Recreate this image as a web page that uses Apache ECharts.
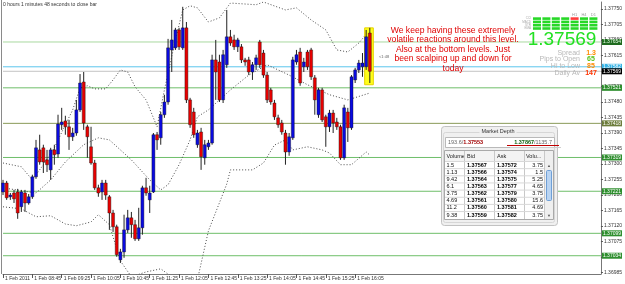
<!DOCTYPE html>
<html><head><meta charset="utf-8">
<script src="https://cdn.jsdelivr.net/npm/echarts@6/dist/echarts.min.js"></script>
<style>html,body{margin:0;padding:0;background:#fff}#c{width:625px;height:284px}</style>
</head><body><div id="c"></div>
<script>
// ---- data ----
const opens = [1.37219,1.37245,1.37205,1.37216,1.37219,1.37176,1.37216,1.37187,1.37205,1.37263,
1.37341,1.37347,1.37312,1.37283,1.37341,1.37329,1.37414,1.37425,1.37408,1.37379,
1.37390,1.37457,1.37538,1.37408,1.37350,1.37303,1.37231,1.37219,1.37245,1.37205,
1.37158,1.37118,1.37022,1.37045,1.37109,1.37144,1.37124,1.37083,1.37115,1.37231,
1.37196,1.37219,1.37385,1.37376,1.37443,1.37480,1.37631,1.37637,1.37689,1.37637,
1.37695,1.37486,1.37451,1.37356,1.37393,1.37318,1.37350,1.37361,1.37602,1.37596,
1.37486,1.37588,1.37669,1.37660,1.37640,1.37640,1.37602,1.37602,1.37567,1.37588,
1.37654,1.37622,1.37558,1.37515,1.37477,1.37434,1.37419,1.37390,1.37335,1.37376,
1.37596,1.37625,1.37582,1.37625,1.37631,1.37550,1.37443,1.37515,1.37437,1.37408,
1.37448,1.37422,1.37408,1.37318,1.37451,1.37405,1.37544,1.37573,1.37582,1.37582,
1.37680];
const closes = [1.37245,1.37202,1.37210,1.37199,1.37158,1.37219,1.37187,1.37205,1.37263,1.37347,
1.37306,1.37306,1.37298,1.37341,1.37327,1.37416,1.37422,1.37408,1.37379,1.37390,
1.37457,1.37535,1.37419,1.37379,1.37303,1.37231,1.37216,1.37245,1.37210,1.37158,
1.37118,1.37037,1.37045,1.37109,1.37144,1.37124,1.37083,1.37115,1.37231,1.37216,
1.37216,1.37385,1.37370,1.37443,1.37480,1.37637,1.37660,1.37689,1.37640,1.37695,
1.37486,1.37414,1.37385,1.37390,1.37321,1.37356,1.37361,1.37602,1.37567,1.37486,
1.37617,1.37669,1.37651,1.37640,1.37660,1.37602,1.37596,1.37567,1.37588,1.37608,
1.37588,1.37558,1.37486,1.37480,1.37437,1.37414,1.37393,1.37335,1.37379,1.37602,
1.37617,1.37535,1.37596,1.37582,1.37553,1.37486,1.37515,1.37428,1.37408,1.37448,
1.37419,1.37408,1.37318,1.37463,1.37405,1.37553,1.37573,1.37593,1.37593,1.37669,
1.37569];
const lows = [1.37210,1.37196,1.37196,1.37187,1.37141,1.37161,1.37161,1.37182,1.37199,1.37257,
1.37298,1.37274,1.37277,1.37254,1.37298,1.37318,1.37399,1.37385,1.37341,1.37367,
1.37382,1.37451,1.37399,1.37318,1.37298,1.37225,1.37205,1.37196,1.37196,1.37109,
1.37103,1.37031,1.37013,1.37028,1.37100,1.37086,1.37077,1.37077,1.37095,1.37208,
1.37158,1.37216,1.37341,1.37356,1.37434,1.37472,1.37567,1.37631,1.37631,1.37631,
1.37477,1.37405,1.37376,1.37347,1.37283,1.37298,1.37341,1.37356,1.37486,1.37480,
1.37477,1.37579,1.37643,1.37631,1.37625,1.37593,1.37585,1.37558,1.37544,1.37573,
1.37579,1.37550,1.37477,1.37472,1.37428,1.37405,1.37385,1.37298,1.37324,1.37370,
1.37588,1.37527,1.37567,1.37573,1.37544,1.37443,1.37434,1.37422,1.37350,1.37393,
1.37390,1.37399,1.37312,1.37312,1.37364,1.37399,1.37535,1.37564,1.37553,1.37573,
1.37535];
const highs = [1.37254,1.37251,1.37216,1.37225,1.37228,1.37225,1.37225,1.37213,1.37269,1.37370,
1.37385,1.37356,1.37341,1.37347,1.37356,1.37443,1.37463,1.37440,1.37428,1.37405,
1.37486,1.37561,1.37567,1.37414,1.37408,1.37312,1.37240,1.37254,1.37254,1.37210,
1.37167,1.37124,1.37054,1.37153,1.37167,1.37161,1.37138,1.37173,1.37237,1.37260,
1.37237,1.37390,1.37393,1.37451,1.37501,1.37663,1.37718,1.37695,1.37695,1.37756,
1.37712,1.37492,1.37463,1.37399,1.37405,1.37370,1.37370,1.37617,1.37660,1.37617,
1.37631,1.37747,1.37689,1.37675,1.37666,1.37648,1.37608,1.37611,1.37596,1.37617,
1.37660,1.37631,1.37567,1.37521,1.37486,1.37443,1.37428,1.37399,1.37390,1.37611,
1.37631,1.37637,1.37608,1.37631,1.37637,1.37558,1.37521,1.37521,1.37443,1.37457,
1.37457,1.37434,1.37414,1.37472,1.37463,1.37558,1.37579,1.37602,1.37622,1.37689,
1.37695];
// Bollinger bands: [bar index, price]
const upperBand = [[0,1.37303],[5,1.37292],[8,1.37254],[11,1.37298],[14,1.37347],[17,1.37414],[19,1.37457],[21,1.37521],[23,1.37527],[25,1.37518],[28,1.37518],[30,1.37544],[32,1.37573],[34,1.37567],[36,1.37524],[39,1.37486],[42,1.37408],[44,1.37515],[47,1.37660],[49,1.37747],[51,1.37759],[53,1.37753],[56,1.37712],[59,1.37724],[62,1.37767],[69,1.37762],[71,1.37770],[77,1.37747],[80,1.37753],[84,1.37718],[88,1.37689],[91,1.37631],[94,1.37625],[97,1.37651],[100,1.37689]];
const middleBand = [[0,1.37231],[9,1.37216],[13,1.37254],[17,1.37306],[22,1.37356],[26,1.37376],[29,1.37370],[32,1.37341],[35,1.37312],[40,1.37254],[43,1.37225],[45,1.37240],[48,1.37298],[51,1.37370],[53,1.37437],[56,1.37457],[59,1.37486],[62,1.37515],[67,1.37558],[72,1.37588],[78,1.37558],[83,1.37530],[89,1.37501],[94,1.37486],[100,1.37506]];
const lowerBand = [[0,1.37176],[5,1.37170],[9,1.37147],[13,1.37150],[17,1.37126],[20,1.37121],[24,1.37132],[26,1.37153],[29,1.37124],[32,1.37019],[35,1.36973],[39,1.36987],[43,1.36996],[46,1.36973],[49,1.36935],[53,1.36964],[56,1.37106],[61,1.37242],[62,1.37283],[68,1.37283],[71,1.37303],[74,1.37355],[77,1.37370],[79,1.37341],[83,1.37350],[87,1.37341],[89,1.37332],[92,1.37298],[95,1.37298],[99,1.37335],[100,1.37326]];
const levelValues = [1.37654,1.37582,1.37569,1.37521,1.37418,1.37319,1.37221,1.37099,1.37034];
const levelKinds  = ['light','ask','bid','green','olive','green','green','green','green'];
const highlightBars = [99,100];
const highlightRange = [1.37530,1.37695];
const yTicks = [1.37750,1.37705,1.37660,1.37615,1.37570,1.37525,1.37480,1.37435,1.37390,1.37345,1.37300,1.37255,1.37210,1.37165,1.37120,1.37075,1.37030,1.36985];
const xTickLabels = ['1 Feb 2011','1 Feb 08:45','1 Feb 09:25','1 Feb 10:05','1 Feb 10:45','1 Feb 11:25','1 Feb 12:05','1 Feb 12:45','1 Feb 13:25','1 Feb 14:05','1 Feb 14:45','1 Feb 15:25','1 Feb 16:05'];
const depthVol = ['1.5','1.13','9.42','6.1','3.75','4.69','11.2','9.38'];
const depthBid = ['1.37567','1.37566','1.37564','1.37563','1.37562','1.37561','1.37560','1.37559'];
const depthAsk = ['1.37572','1.37574','1.37575','1.37577','1.37579','1.37580','1.37581','1.37582'];
const depthAskVol = ['3.75','1.5','5.25','4.65','3.75','15.6','4.69','3.75'];
const infoLabels = ['Spread','Pips to Open','Hi to Low','Daily Av'];
const infoValues = ['1.3','65','85','147'];
const noteLines = ['We keep having these extremely','volatile reactions around this level.','Also at the bottom levels. Just','been scalping up and down for','today'];

// ---- categories (5-minute slots from 08:05) ----
const nSlots = 164;
const categories = [];
for (let i = 0; i < nSlots; i++) {
  const m = 8 * 60 + 5 + 5 * i;
  categories.push(String(Math.floor(m / 60) % 24).padStart(2, '0') + ':' + String(m % 60).padStart(2, '0'));
}
const showTick = (idx) => idx % 8 === 0 && idx / 8 < xTickLabels.length;

const FONT = 'Liberation Sans, Arial, sans-serif';
const kindStyle = {
  light: {line: '#a9d9a0', bg: '#1f6b1f', fg: '#e8ffe8'},
  ask:   {line: '#5cc6ee', bg: '#38b4e6', fg: '#ffffff'},
  bid:   {line: '#c4c4c4', bg: '#000000', fg: '#ffffff'},
  green: {line: '#6fbf6a', bg: '#2f8f2f', fg: '#ffffff'},
  olive: {line: '#8a9a58', bg: '#6d7d3c', fg: '#ffffff'}
};

const candleData = opens.map((o, i) => [i, o, closes[i], lows[i], highs[i]]);

const chart = echarts.init(document.getElementById('c'), null, {renderer: 'canvas'});

// ---- decorations ----
const g = [];
g.push({type: 'line', shape: {x1: 1.5, y1: 0, x2: 1.5, y2: 274}, style: {stroke: '#8a8a8a', lineWidth: 1}, silent: true});
g.push({type: 'text', x: 3, y: 5, style: {text: '0 hours 1 minutes 48 seconds to close bar', fill: '#333', font: '5px ' + FONT, verticalAlign: 'middle'}});
noteLines.forEach((t, i) => g.push({type: 'text', x: 453, y: 30.5 + i * 9.5, z: 20,
  style: {text: t, fill: '#e00000', font: '8.6px ' + FONT, align: 'center', verticalAlign: 'middle'}}));
// signal grid
const colNames = ['', '', '', '', 'H1', 'H4', 'D1'];
colNames.forEach((t, c) => { if (t) g.push({type: 'text', x: 537 + c * 9.4, y: 14.5, style: {text: t, fill: '#999', font: '4px ' + FONT, align: 'center', verticalAlign: 'middle'}}); });
['CCI', 'MACD', 'STR', 'EMA'].forEach((t, r) => g.push({type: 'text', x: 531, y: 18.6 + r * 3.3, style: {text: t, fill: '#aaa', font: '3px ' + FONT, align: 'right', verticalAlign: 'middle'}}));
for (let r = 0; r < 4; r++) for (let c = 0; c < 7; c++) {
  g.push({type: 'rect', shape: {x: 533 + c * 9.4, y: 17.3 + r * 3.3, width: 8, height: 2.6},
    style: {fill: (r === 0 && c === 4) ? '#ff3b3b' : '#27d827'}});
}
g.push({type: 'text', x: 562, y: 40, z: 20, style: {text: '1.37569', fill: '#22e022', font: '19px ' + FONT, align: 'center', verticalAlign: 'middle'}});
const infoColors = ['#ff8c00', '#59c21b', '#ff8c00', '#ff3300'];
infoLabels.forEach((t, i) => {
  g.push({type: 'text', x: 580, y: 52.7 + i * 6.7, z: 20, style: {text: t, fill: '#b8b8b8', font: '7px ' + FONT, align: 'right', verticalAlign: 'middle'}});
  g.push({type: 'text', x: 591, y: 52.7 + i * 6.7, z: 20, style: {text: infoValues[i], fill: infoColors[i], font: 'bold 7px ' + FONT, align: 'center', verticalAlign: 'middle'}});
});
g.push({type: 'text', x: 379, y: 57, z: 20, style: {text: '<1:48', fill: '#666', font: '4px ' + FONT, verticalAlign: 'middle'}});
// market depth window
g.push({type: 'rect', z: 30, shape: {x: 441.5, y: 126.5, width: 116, height: 99, r: 3}, style: {fill: '#f0f0f0', stroke: '#c2c2c2', lineWidth: 1}});
g.push({type: 'rect', z: 30, shape: {x: 443.5, y: 132.5, width: 111, height: 90, r: 2}, style: {fill: 'none', stroke: '#d6d6d6', lineWidth: 1}});
g.push({type: 'text', x: 498, y: 131.5, z: 31, style: {text: 'Market Depth', fill: '#333', font: '5.5px ' + FONT, align: 'center', verticalAlign: 'middle', backgroundColor: '#f0f0f0', padding: [0, 2]}});
g.push({type: 'rect', z: 31, shape: {x: 445.5, y: 137.5, width: 109, height: 10}, style: {fill: '#fff', stroke: '#b9b9b9', lineWidth: 1}});
g.push({type: 'text', x: 448, y: 142.5, z: 32, style: {text: '{a|193.6/}{b|1.37553}', verticalAlign: 'middle',
  rich: {a: {fill: '#666', font: '5.5px ' + FONT}, b: {fill: '#a00000', font: 'bold 5.5px ' + FONT}}}});
g.push({type: 'text', x: 552, y: 142.5, z: 32, style: {text: '{b|1.37867}{a|/1135.7}', align: 'right', verticalAlign: 'middle',
  rich: {a: {fill: '#666', font: '5.5px ' + FONT}, b: {fill: '#0b5e0b', font: 'bold 5.5px ' + FONT}}}});
g.push({type: 'line', z: 32, shape: {x1: 507, y1: 145.5, x2: 559, y2: 145.5}, style: {stroke: '#c00000', lineWidth: 1}});
g.push({type: 'line', z: 32, shape: {x1: 510, y1: 147.5, x2: 561, y2: 147.5}, style: {stroke: '#cfcfcf', lineWidth: 1}});
g.push({type: 'rect', z: 31, shape: {x: 444.5, y: 150.5, width: 109, height: 69}, style: {fill: '#fff', stroke: '#a9a9a9', lineWidth: 1}});
g.push({type: 'rect', z: 31, shape: {x: 445, y: 151, width: 99, height: 10}, style: {fill: '#f3f3f3'}});
[['Volume', 446.5], ['Bid', 467], ['Ask', 497], ['Volu...', 526]].forEach(([t, x]) =>
  g.push({type: 'text', x, y: 156, z: 32, style: {text: t, fill: '#222', font: '5.5px ' + FONT, verticalAlign: 'middle'}}));
[464.5, 494.5, 524.5, 544.5].forEach(x => g.push({type: 'line', z: 32, shape: {x1: x, y1: 151, x2: x, y2: 219}, style: {stroke: '#c8c8c8', lineWidth: 1}}));
depthVol.forEach((v, i) => {
  const y = 165 + i * 7.15;
  g.push({type: 'line', z: 32, shape: {x1: 445, y1: y - 3.5, x2: 544, y2: y - 3.5}, style: {stroke: '#d8d8d8', lineWidth: 1}});
  g.push({type: 'text', x: 446.5, y, z: 32, style: {text: v, fill: '#111', font: '5.5px ' + FONT, verticalAlign: 'middle'}});
  g.push({type: 'text', x: 467, y, z: 32, style: {text: depthBid[i], fill: '#000', font: 'bold 5.5px ' + FONT, verticalAlign: 'middle'}});
  g.push({type: 'text', x: 497, y, z: 32, style: {text: depthAsk[i], fill: '#000', font: 'bold 5.5px ' + FONT, verticalAlign: 'middle'}});
  g.push({type: 'text', x: 543, y, z: 32, style: {text: depthAskVol[i], fill: '#111', font: '5.5px ' + FONT, align: 'right', verticalAlign: 'middle'}});
});
g.push({type: 'rect', z: 32, shape: {x: 545, y: 151, width: 8, height: 68}, style: {fill: '#efefef'}});
g.push({type: 'rect', z: 33, shape: {x: 546.5, y: 170.5, width: 5, height: 30, r: 1}, style: {fill: '#b9d4f2', stroke: '#6f9fd6', lineWidth: 1}});
g.push({type: 'text', x: 549, y: 166, z: 33, style: {text: '▲', fill: '#555', font: '4px ' + FONT, align: 'center', verticalAlign: 'middle'}});
g.push({type: 'text', x: 549, y: 215.5, z: 33, style: {text: '▼', fill: '#555', font: '4px ' + FONT, align: 'center', verticalAlign: 'middle'}});

const bandStyle = {color: '#4a4a4a', width: 1, type: [1, 2]};

const series = [];
// horizontal price levels, each drawn across the full time axis with a price tag at its end
levelValues.forEach((v, i) => {
  const s = kindStyle[levelKinds[i]];
  series.push({type: 'line', name: 'level' + i, data: [[0, v], [nSlots - 1, v]], showSymbol: false, silent: true,
    z: 1, lineStyle: {color: s.line, width: 1},
    endLabel: {show: true, formatter: () => v.toFixed(5), backgroundColor: s.bg, color: s.fg, fontSize: 5,
      padding: [1, 1, 0, 1], distance: 1, fontFamily: FONT}});
});
series.push(
  {type: 'line', name: 'upper', data: upperBand, showSymbol: false, lineStyle: bandStyle, z: 2, clip: true, silent: true},
  {type: 'line', name: 'middle', data: middleBand, showSymbol: false, lineStyle: bandStyle, z: 2, clip: true, silent: true},
  {type: 'line', name: 'lower', data: lowerBand, showSymbol: false, lineStyle: bandStyle, z: 2, clip: true, silent: true},
  {type: 'custom', name: 'highlight', z: 3, silent: true,
   data: [[highlightBars[0], highlightBars[1], highlightRange[0], highlightRange[1]]],
   renderItem: (params, api) => {
     const a = api.coord([api.value(0), api.value(3)]);
     const b = api.coord([api.value(1), api.value(2)]);
     return {type: 'rect', shape: {x: a[0] - 1.5, y: a[1], width: b[0] - a[0] + 5, height: b[1] - a[1]},
       style: {fill: '#ffff1a', stroke: '#e6d200', lineWidth: 1}};
   }},
  {type: 'custom', name: 'candles', z: 5, silent: true, data: candleData,
   encode: {x: 0, y: [1, 2, 3, 4]},
   renderItem: (params, api) => {
     const x = api.value(0), o = api.value(1), c = api.value(2), l = api.value(3), h = api.value(4);
     const pH = api.coord([x, h]), pL = api.coord([x, l]), pO = api.coord([x, o]), pC = api.coord([x, c]);
     const top = Math.min(pO[1], pC[1]), bot = Math.max(pO[1], pC[1]);
     const bw = 3;
     return {type: 'group', children: [
       {type: 'line', shape: {x1: pH[0], y1: pH[1], x2: pL[0], y2: pL[1]}, style: {stroke: '#222', lineWidth: 1}},
       {type: 'rect', shape: {x: pO[0] - bw / 2, y: top, width: bw, height: Math.max(bot - top, 1)},
        style: {fill: c >= o ? '#0a0ae0' : '#e80000', stroke: '#111', lineWidth: 0.4}}
     ]};
   }}
);

chart.setOption({
  animation: false,
  backgroundColor: '#ffffff',
  grid: {left: 3, right: 19, top: 2, bottom: 10},
  xAxis: {
    type: 'category', data: categories, boundaryGap: false,
    axisLine: {show: true, lineStyle: {color: '#777', width: 1}},
    axisTick: {show: true, interval: showTick, length: 4, lineStyle: {color: '#555'}},
    axisLabel: {interval: showTick, formatter: (v, idx) => xTickLabels[idx / 8] || '', align: 'left',
      padding: [0, 0, 0, 2], fontSize: 5, color: '#333', margin: 2, fontFamily: FONT},
    splitLine: {show: false}
  },
  yAxis: {
    type: 'value', position: 'right', min: 1.36981, max: 1.37770, scale: true,
    axisLine: {show: true, lineStyle: {color: '#777', width: 1}},
    axisTick: {show: true, customValues: yTicks, length: 2, lineStyle: {color: '#555'}},
    axisLabel: {customValues: yTicks, formatter: v => v.toFixed(5), fontSize: 5, color: '#333', margin: 3, fontFamily: FONT},
    splitLine: {show: false}
  },
  series,
  graphic: {elements: g}
});
</script>
</body></html>
